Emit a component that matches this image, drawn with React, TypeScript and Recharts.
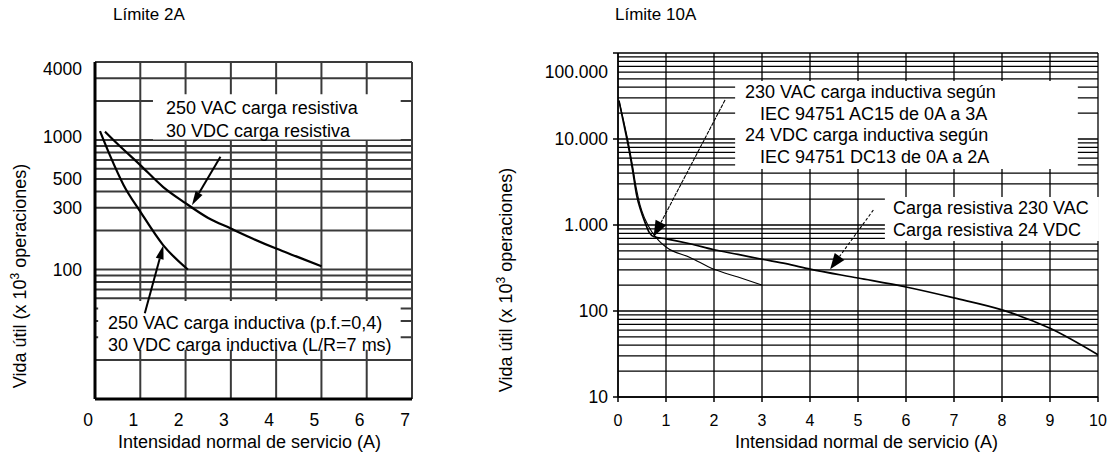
import { LineChart, Line, XAxis, YAxis, ReferenceArea, ReferenceLine } from 'recharts'

const FONT = "'Liberation Sans', Arial, Helvetica, sans-serif"

// ---------- Límite 2A ----------
const amps2A = [0, 1, 2, 3, 4, 5, 6, 7]
const lifeTicks2A = [100, 300, 500, 1000, 4000]
const lifeGrid2A = [10, 20, 30, 40, 50, 60, 70, 80, 90, 100, 200, 300, 400, 500, 600, 700, 800, 900, 1000, 2000, 3000, 4000]
// 250 VAC / 30 VDC carga resistiva
const resistive2A = [
  { a: 0.22, v: 1160 },
  { a: 0.5, v: 930 },
  { a: 1, v: 640 },
  { a: 1.5, v: 435 },
  { a: 2, v: 325 },
  { a: 2.5, v: 250 },
  { a: 3, v: 207 },
  { a: 3.5, v: 172 },
  { a: 4, v: 145 },
  { a: 4.5, v: 124 },
  { a: 5, v: 106 },
]
// 250 VAC / 30 VDC carga inductiva
const inductive2A = [
  { a: 0.11, v: 1170 },
  { a: 0.33, v: 760 },
  { a: 0.63, v: 450 },
  { a: 1, v: 280 },
  { a: 1.5, v: 155 },
  { a: 2.05, v: 100 },
]
const arrowRes2A = [{ x: 2.77, y: 742 }, { x: 2.14, y: 314 }]
const arrowInd2A = [{ x: 1.1, y: 46 }, { x: 1.51, y: 154 }]
const boxes2A = [
  { x1: 1.28, x2: 6.75, y1: 1010, y2: 2250 },
  { x1: 0.07, x2: 6.75, y1: 24, y2: 57 },
]

// ---------- Límite 10A ----------
const amps10A = [0, 1, 2, 3, 4, 5, 6, 7, 8, 9, 10]
const lifeTicks10A = [10, 100, 1000, 10000, 100000]
const lifeLabels10A = ['10', '100', '1.000', '10.000', '100.000']
const lifeGrid10A = [
  10, 20, 30, 40, 50, 60, 70, 80, 90,
  100, 200, 300, 400, 500, 600, 700, 800, 900,
  1000, 2000, 3000, 4000, 5000, 6000, 7000, 8000, 9000,
  10000, 20000, 30000, 40000, 50000, 60000, 70000, 80000, 90000, 100000,
]
// carga resistiva 230 VAC / 24 VDC
const resistive10A = [
  { a: 0.02, v: 27900 },
  { a: 0.12, v: 15000 },
  { a: 0.22, v: 8000 },
  { a: 0.3, v: 4500 },
  { a: 0.39, v: 2200 },
  { a: 0.47, v: 1500 },
  { a: 0.56, v: 1080 },
  { a: 0.65, v: 820 },
  { a: 0.75, v: 730 },
  { a: 1, v: 690 },
  { a: 1.5, v: 605 },
  { a: 2, v: 515 },
  { a: 2.5, v: 455 },
  { a: 3, v: 400 },
  { a: 3.5, v: 355 },
  { a: 4, v: 307 },
  { a: 5, v: 242 },
  { a: 6, v: 190 },
  { a: 7, v: 142 },
  { a: 8, v: 103 },
  { a: 9, v: 63 },
  { a: 10, v: 31 },
]
// carga inductiva AC15 / DC13
const inductive10A = [
  { a: 0.02, v: 27900 },
  { a: 0.12, v: 16000 },
  { a: 0.22, v: 8800 },
  { a: 0.3, v: 5000 },
  { a: 0.38, v: 2700 },
  { a: 0.46, v: 1700 },
  { a: 0.56, v: 1180 },
  { a: 0.7, v: 840 },
  { a: 0.85, v: 660 },
  { a: 1, v: 555 },
  { a: 1.5, v: 420 },
  { a: 2, v: 305 },
  { a: 2.5, v: 248 },
  { a: 3, v: 200 },
]
const arrowInd10A = [{ x: 2.23, y: 28400 }, { x: 0.74, y: 731 }]
const arrowRes10A = [{ x: 5.32, y: 1494 }, { x: 4.42, y: 305 }]
const boxes10A = [
  { x1: 2.44, x2: 9.58, y1: 4480, y2: 47200 },
  { x1: 5.56, x2: 10.02, y1: 652, y2: 2120 },
]

const Arrow = (p: any) => {
  const { x1, y1, x2, y2, head, half, w, dash } = p
  const dx = x2 - x1
  const dy = y2 - y1
  const len = Math.hypot(dx, dy) || 1
  const ux = dx / len
  const uy = dy / len
  const bx = x2 - ux * head
  const by = y2 - uy * head
  const px = -uy * half
  const py = ux * half
  return (
    <g>
      <line x1={x1} y1={y1} x2={bx} y2={by} stroke="#000" strokeWidth={w} strokeDasharray={dash} />
      <polygon points={`${x2},${y2} ${bx + px},${by + py} ${bx - px},${by - py}`} fill="#000" />
    </g>
  )
}

const XTick = ({ x, y, payload, shift = 0, size = 16 }: any) => (
  <text x={x + shift} y={y} dy="0.71em" textAnchor="middle" fontSize={size} fontFamily={FONT} fill="#000">
    {payload.value}
  </text>
)

const YTick = ({ x, y, size = 17, label, lift = 0 }: any) => (
  <text x={x} y={y + lift} dy="0.355em" textAnchor="end" fontSize={size} fontFamily={FONT} fill="#000">
    {label}
  </text>
)

const txt = (left: number, top: number, size: number, lh: number, lines: string[], indent: number[] = []) => (
  <div
    style={{
      position: 'absolute',
      left,
      top,
      fontFamily: FONT,
      fontSize: size,
      lineHeight: `${lh}px`,
      color: '#000',
      whiteSpace: 'nowrap',
    }}
  >
    {lines.map((l, i) => (
      <div key={i} style={{ paddingLeft: indent[i] || 0 }}>
        {l}
      </div>
    ))}
  </div>
)

const yTitle = (cx: number, cy: number) => (
  <div
    style={{
      position: 'absolute',
      left: cx - 130,
      top: cy - 12,
      width: 260,
      height: 24,
      lineHeight: '24px',
      textAlign: 'center',
      fontFamily: FONT,
      fontSize: 18,
      color: '#000',
      whiteSpace: 'nowrap',
      transform: 'rotate(-90deg)',
    }}
  >
    Vida útil (x 10<span style={{ fontSize: 12, position: 'relative', top: -7 }}>3</span> operaciones)
  </div>
)

// axes of each panel; `bare` gives the same layout without any drawing (for the grid layer)
const axes2A = (bare: boolean) => [
  <XAxis
    key="x"
    type="number"
    dataKey="a"
    domain={[0, 7]}
    ticks={amps2A}
    height={40}
    tickSize={0}
    tickMargin={15}
    axisLine={bare ? false : { stroke: '#000', strokeWidth: 3 }}
    tickLine={false}
    allowDataOverflow
    tick={bare ? false : (p: any) => <XTick {...p} shift={-7} size={17.5} />}
  />,
  <YAxis
    key="y"
    type="number"
    dataKey="v"
    scale="log"
    domain={[10, 4000]}
    ticks={lifeTicks2A}
    width={60}
    tickSize={0}
    tickMargin={13}
    axisLine={bare ? false : { stroke: '#000', strokeWidth: 3 }}
    tickLine={false}
    allowDataOverflow
    tick={
      bare
        ? false
        : (p: any) => (
            <YTick
              {...p}
              size={17.5}
              label={String(p.payload.value)}
              lift={p.payload.value === 4000 ? 7 : p.payload.value === 1000 ? -3 : 0}
            />
          )
    }
  />,
]

const axes10A = (bare: boolean) => [
  <XAxis
    key="x"
    type="number"
    dataKey="a"
    domain={[0, 10]}
    ticks={amps10A}
    height={40}
    tickSize={5}
    tickMargin={13}
    axisLine={bare ? false : { stroke: '#000', strokeWidth: 1.5 }}
    tickLine={bare ? false : { stroke: '#000', strokeWidth: 1.5 }}
    allowDataOverflow
    tick={bare ? false : (p: any) => <XTick {...p} size={16} />}
  />,
  <YAxis
    key="y"
    type="number"
    dataKey="v"
    scale="log"
    domain={[10, 100000]}
    ticks={lifeTicks10A}
    width={60}
    tickSize={5}
    tickMargin={5}
    axisLine={bare ? false : { stroke: '#000', strokeWidth: 1.5 }}
    tickLine={bare ? false : { stroke: '#000', strokeWidth: 1.5 }}
    allowDataOverflow
    tick={
      bare
        ? false
        : (p: any) => (
            <YTick
              {...p}
              size={17.5}
              label={lifeLabels10A[lifeTicks10A.indexOf(p.payload.value)]}
              lift={p.payload.value === 100000 ? 19 : 0}
            />
          )
    }
  />,
]

const layer = { position: 'absolute' as const, left: 0, top: 0 }
const margin2A = { top: 62, right: 18, bottom: 20, left: 35 }
const margin10A = { top: 53, right: 12, bottom: 22, left: 128 }

const App = () => {
  return (
    <div style={{ position: 'absolute', left: 0, top: 0, width: 1110, height: 459, background: '#fff', overflow: 'hidden' }}>
      {/* Límite 2A */}
      <div style={{ position: 'absolute', left: 0, top: 0, width: 430, height: 459 }}>
        <div style={layer}>
          <LineChart width={430} height={459} margin={margin2A}>
            {axes2A(true)}
            {lifeGrid2A.map((v) => (
              <ReferenceLine key={'h' + v} y={v} stroke="#3a3a3a" strokeWidth={2} />
            ))}
            {amps2A.map((a) => (
              <ReferenceLine key={'v' + a} x={a} stroke="#3a3a3a" strokeWidth={2} />
            ))}
          </LineChart>
        </div>
        <div style={layer}>
          <LineChart width={430} height={459} margin={margin2A}>
            {axes2A(false)}
            {boxes2A.map((b, i) => (
              <ReferenceArea key={i} x1={b.x1} x2={b.x2} y1={b.y1} y2={b.y2} fill="#fff" fillOpacity={1} stroke="none" />
            ))}
            <Line data={resistive2A} dataKey="v" type="monotone" stroke="#000" strokeWidth={2.2} dot={false} isAnimationActive={false} />
            <Line data={inductive2A} dataKey="v" type="monotone" stroke="#000" strokeWidth={2.2} dot={false} isAnimationActive={false} />
            <ReferenceLine segment={arrowRes2A} shape={(p: any) => <Arrow {...p} head={14} half={4} w={2} />} />
            <ReferenceLine segment={arrowInd2A} shape={(p: any) => <Arrow {...p} head={14} half={4} w={2} />} />
          </LineChart>
        </div>
      </div>

      {/* Límite 10A */}
      <div style={{ position: 'absolute', left: 430, top: 0, width: 680, height: 459 }}>
        <div style={layer}>
          <LineChart width={680} height={459} margin={margin10A}>
            {axes10A(true)}
            {lifeGrid10A.map((v) => (
              <ReferenceLine key={'h' + v} y={v} stroke="#000" strokeWidth={1.3} />
            ))}
            {amps10A.map((a) => (
              <ReferenceLine key={'v' + a} x={a} stroke="#000" strokeWidth={1.3} />
            ))}
          </LineChart>
        </div>
        <div style={layer}>
          <LineChart width={680} height={459} margin={margin10A}>
            {axes10A(false)}
            {boxes10A.map((b, i) => (
              <ReferenceArea
                key={i}
                x1={b.x1}
                x2={b.x2}
                y1={b.y1}
                y2={b.y2}
                fill="#fff"
                fillOpacity={1}
                stroke="none"
                ifOverflow="visible"
              />
            ))}
            <Line data={resistive10A} dataKey="v" type="monotone" stroke="#000" strokeWidth={1.7} dot={false} isAnimationActive={false} />
            <Line data={inductive10A} dataKey="v" type="monotone" stroke="#000" strokeWidth={1.1} dot={false} isAnimationActive={false} />
            <ReferenceLine segment={arrowInd10A} shape={(p: any) => <Arrow {...p} head={16} half={6} w={1.1} dash="4 1" />} />
            <ReferenceLine segment={arrowRes10A} shape={(p: any) => <Arrow {...p} head={16} half={6} w={1.1} dash="3 2" />} />
          </LineChart>
        </div>
      </div>

      {/* titles */}
      {txt(113, 5, 17, 20, ['Límite 2A'])}
      {txt(615, 5, 17, 20, ['Límite 10A'])}

      {/* annotations, left */}
      {txt(166, 97, 18, 23, ['250 VAC carga resistiva', '30 VDC carga resistiva'])}
      {txt(108, 312, 18, 22, ['250 VAC carga inductiva (p.f.=0,4)', '30 VDC carga inductiva (L/R=7 ms)'])}

      {/* annotations, right */}
      {txt(745, 82, 18, 21.7, [
        '230 VAC carga inductiva según',
        'IEC 94751 AC15 de 0A a 3A',
        '24 VDC carga inductiva según',
        'IEC 94751 DC13 de 0A a 2A',
      ], [0, 15, 0, 15])}
      {txt(893, 197, 18, 22, ['Carga resistiva 230 VAC', 'Carga resistiva 24 VDC'])}

      {/* axis titles */}
      {txt(118, 431, 18, 22, ['Intensidad normal de servicio (A)'])}
      {txt(735, 431, 18, 22, ['Intensidad normal de servicio (A)'])}
      {yTitle(20, 276)}
      {yTitle(506, 280)}
    </div>
  )
}

export default App
